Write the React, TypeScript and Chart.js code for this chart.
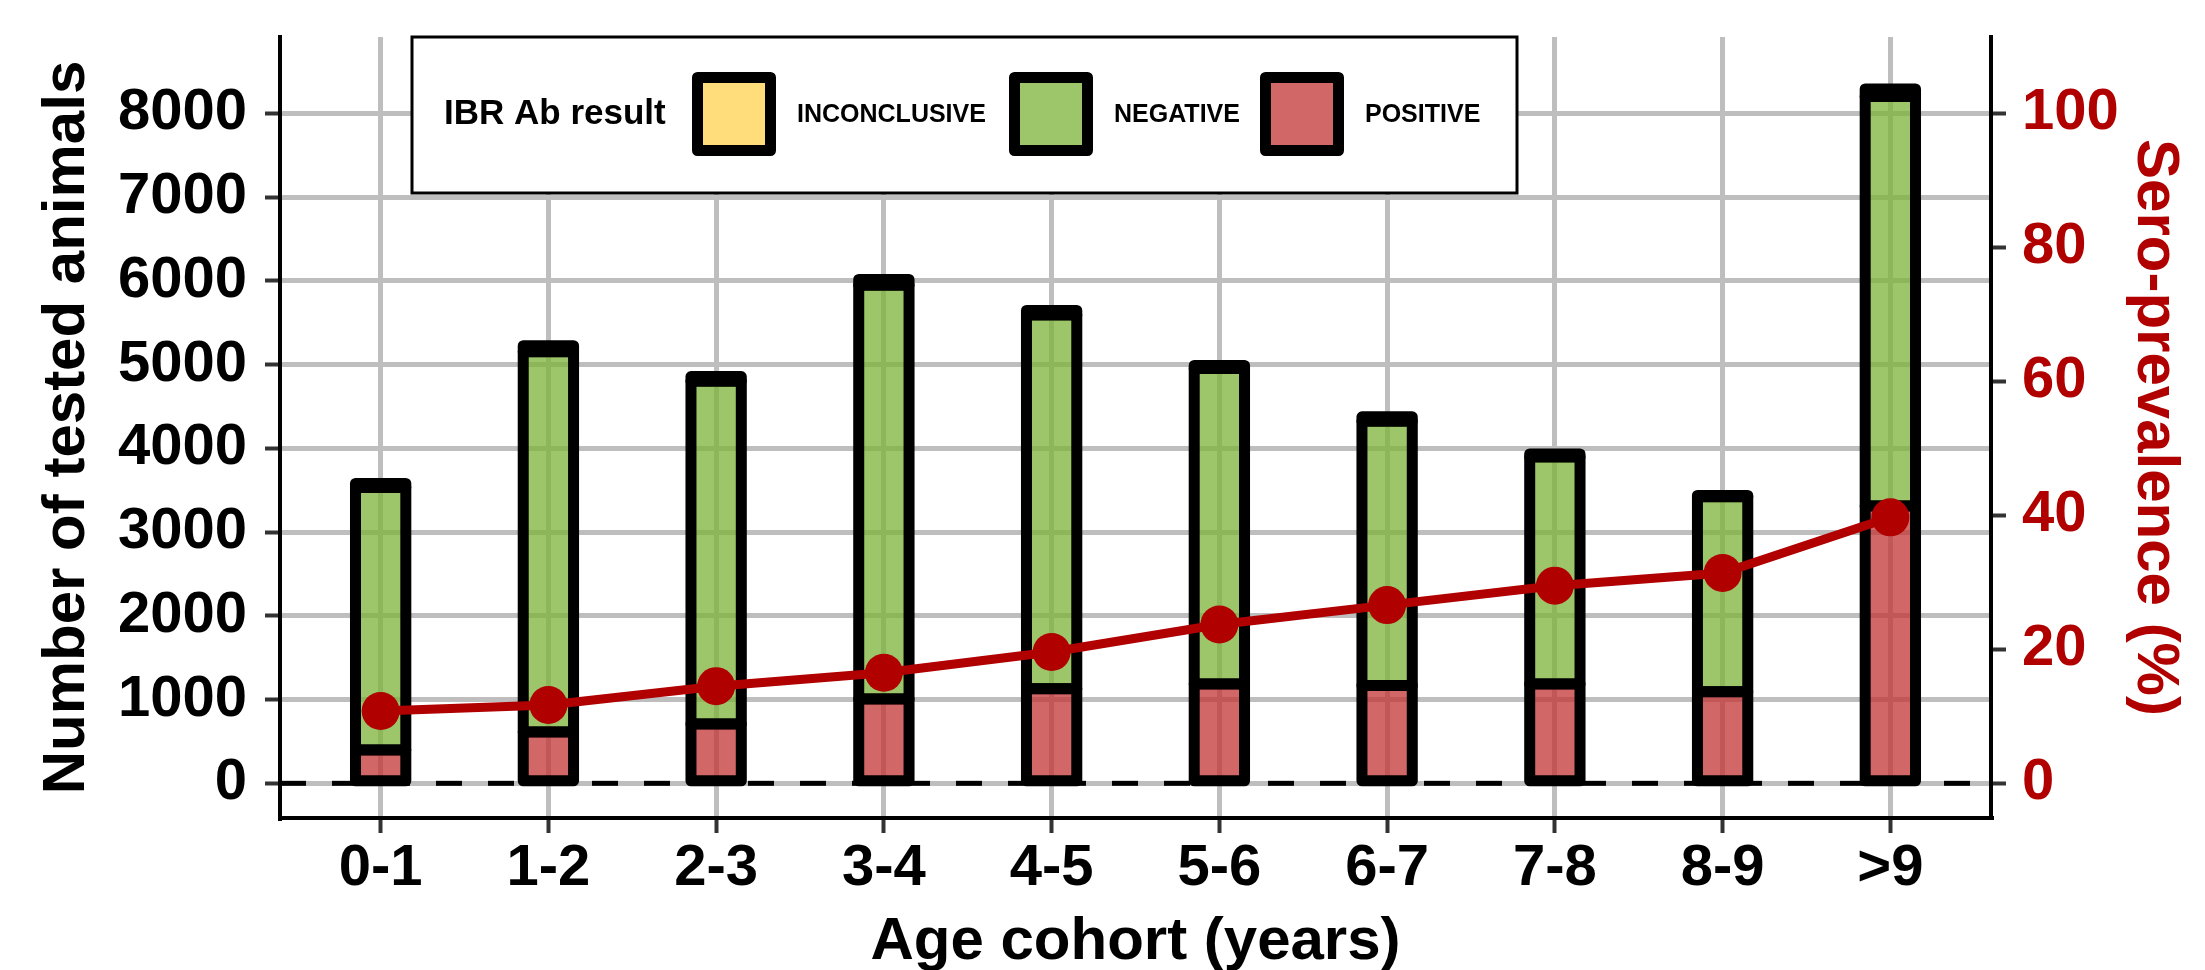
import React, { useEffect, useRef } from 'react';
import { Chart, registerables } from 'chart.js';

Chart.register(...registerables);

// ---------------- data ----------------
const categories = ['0-1', '1-2', '2-3', '3-4', '4-5', '5-6', '6-7', '7-8', '8-9', '>9'];
const positive = [398, 613, 708, 1007, 1130, 1186, 1168, 1186, 1094, 3311];
const negative = [3134, 4541, 4094, 4941, 4462, 3766, 3154, 2709, 2328, 4889];
const inconclusive = [48, 72, 54, 68, 54, 38, 54, 38, 15, 90];
const seroPrevalence = [10.8, 11.7, 14.5, 16.5, 19.6, 23.7, 26.6, 29.5, 31.4, 39.7];
const countTicks = [0, 1000, 2000, 3000, 4000, 5000, 6000, 7000, 8000];
const prevalenceTicks = [0, 20, 40, 60, 80, 100];
const legendTitle = 'IBR Ab result';
const resultNames = ['INCONCLUSIVE', 'NEGATIVE', 'POSITIVE'];
const xTitle = 'Age cohort (years)';
const yTitle = 'Number of tested animals';
const y2Title = 'Sero-prevalence (%)';

// ---------------- styles ----------------
const FONT = "'Liberation Sans', Arial, Helvetica, sans-serif";
const DARK_RED = '#B00000';
const GRID = '#BEBEBE';
const TICK = '#333333';
const fillColors: Record<string, string> = {
  INCONCLUSIVE: 'rgba(254,210,78,0.75)',
  NEGATIVE: 'rgba(124,178,56,0.75)',
  POSITIVE: 'rgba(195,52,52,0.75)',
};
const COUNT_MIN = -414;
const COUNT_MAX = 8911;
const RATIO = 80; // count units per percentage point

const barOutline = {
  id: 'barOutline',
  afterDatasetDraw(chart: any, args: any) {
    const meta = args.meta;
    if (meta.type !== 'bar') return;
    const ctx = chart.ctx;
    ctx.save();
    ctx.strokeStyle = '#000';
    ctx.lineWidth = 11;
    ctx.lineJoin = 'round';
    for (const el of meta.data) {
      const p = el.getProps(['x', 'y', 'base', 'width'], true);
      const top = Math.min(p.y, p.base);
      const h = Math.abs(p.base - p.y);
      ctx.strokeRect(p.x - p.width / 2, top, p.width, h);
    }
    ctx.restore();
  },
};

const zeroLine = {
  id: 'zeroLine',
  beforeDatasetsDraw(chart: any) {
    const { ctx, chartArea, scales } = chart;
    const y = scales.y.getPixelForValue(0);
    ctx.save();
    ctx.strokeStyle = '#000';
    ctx.lineWidth = 5;
    ctx.setLineDash([26, 26]);
    ctx.beginPath();
    ctx.moveTo(chartArea.left, y);
    ctx.lineTo(chartArea.right, y);
    ctx.stroke();
    ctx.restore();
  },
};

const legendBox = {
  id: 'legendBox',
  afterDraw(chart: any) {
    const ctx = chart.ctx;
    const bx = 412, by = 37, bw = 1105, bh = 156;
    const cy = by + bh / 2 - 1;
    ctx.save();
    ctx.fillStyle = '#fff';
    ctx.fillRect(bx, by, bw, bh);
    ctx.strokeStyle = '#000';
    ctx.lineWidth = 3;
    ctx.strokeRect(bx, by, bw, bh);
    ctx.fillStyle = '#000';
    ctx.textBaseline = 'middle';
    ctx.textAlign = 'left';
    ctx.font = `bold 35px ${FONT}`;
    ctx.fillText(legendTitle, 444, cy);
    const keyCenters = [734, 1051, 1302];
    const labelX = [797, 1114, 1365];
    resultNames.forEach((name, i) => {
      const s = 73;
      ctx.fillStyle = '#fff';
      ctx.fillRect(keyCenters[i] - s / 2, cy - s / 2, s, s);
      ctx.fillStyle = fillColors[name];
      ctx.fillRect(keyCenters[i] - s / 2, cy - s / 2, s, s);
      ctx.strokeStyle = '#000';
      ctx.lineWidth = 11;
      ctx.lineJoin = 'round';
      ctx.strokeRect(keyCenters[i] - s / 2, cy - s / 2, s, s);
      ctx.fillStyle = '#000';
      ctx.font = `bold 25px ${FONT}`;
      ctx.fillText(name, labelX[i], cy + 1);
    });
    ctx.restore();
  },
};

export default function App() {
  const canvasRef = useRef<HTMLCanvasElement | null>(null);

  useEffect(() => {
    if (!canvasRef.current) return;
    const toPts = (arr: number[]) => arr.map((v, i) => ({ x: i, y: v }));
    const barCommon = {
      type: 'bar' as const,
      borderWidth: 0,
      barPercentage: 0.3,
      categoryPercentage: 1,
      yAxisID: 'y',
      stack: 'counts',
    };
    const chart = new Chart(canvasRef.current, {
      type: 'bar',
      data: {
        datasets: [
          { ...barCommon, label: 'POSITIVE', data: toPts(positive), backgroundColor: fillColors.POSITIVE, order: 1 },
          { ...barCommon, label: 'NEGATIVE', data: toPts(negative), backgroundColor: fillColors.NEGATIVE, order: 2 },
          { ...barCommon, label: 'INCONCLUSIVE', data: toPts(inconclusive), backgroundColor: fillColors.INCONCLUSIVE, order: 3 },
          {
            type: 'line',
            label: 'Sero-prevalence',
            data: toPts(seroPrevalence),
            yAxisID: 'y2',
            borderColor: DARK_RED,
            backgroundColor: DARK_RED,
            borderWidth: 9,
            pointRadius: 19,
            pointBackgroundColor: DARK_RED,
            pointBorderColor: DARK_RED,
            pointBorderWidth: 0,
            tension: 0,
            order: 0,
          } as any,
        ],
      },
      options: {
        animation: false,
        responsive: true,
        maintainAspectRatio: false,
        devicePixelRatio: 1,
        layout: { padding: { top: 37, left: 0, right: 0, bottom: 0 } },
        plugins: { legend: { display: false }, tooltip: { enabled: false } },
        scales: {
          x: {
            type: 'linear',
            min: -0.6,
            max: 9.6,
            stacked: true,
            offset: false,
            afterBuildTicks: (axis: any) => {
              axis.ticks = categories.map((_, i) => ({ value: i }));
            },
            afterFit: (axis: any) => {
              axis.height = 152;
              axis.paddingLeft = 0;
              axis.paddingRight = 0;
            },
            ticks: {
              autoSkip: false,
              maxRotation: 0,
              padding: 1,
              color: '#000',
              font: { family: FONT, size: 58, weight: 'bold' },
              callback: (v: any) => categories[Math.round(Number(v))] ?? '',
            },
            grid: { offset: false, color: GRID, lineWidth: 5, tickLength: 15, tickWidth: 4, tickColor: TICK },
            border: { display: true, color: '#000', width: 4 },
            title: {
              display: true,
              text: xTitle,
              color: '#000',
              font: { family: FONT, size: 60, weight: 'bold' },
              padding: { top: 0, bottom: -8 },
            },
          },
          y: {
            type: 'linear',
            position: 'left',
            stacked: true,
            min: COUNT_MIN,
            max: COUNT_MAX,
            afterBuildTicks: (axis: any) => {
              axis.ticks = countTicks.map((v) => ({ value: v }));
            },
            afterFit: (axis: any) => {
              axis.width = 280;
              axis.paddingTop = 0;
              axis.paddingBottom = 0;
            },
            ticks: {
              padding: 18,
              color: '#000',
              font: { family: FONT, size: 58, weight: 'bold' },
              callback: (v: any) => String(v),
            },
            grid: { color: GRID, lineWidth: 5, tickLength: 15, tickWidth: 4, tickColor: TICK },
            border: { display: true, color: '#000', width: 4 },
            title: {
              display: true,
              text: yTitle,
              color: '#000',
              font: { family: FONT, size: 60, weight: 'bold' },
              padding: { top: 31, bottom: 0 },
            },
          },
          y2: {
            type: 'linear',
            position: 'right',
            min: COUNT_MIN / RATIO,
            max: COUNT_MAX / RATIO,
            afterBuildTicks: (axis: any) => {
              axis.ticks = prevalenceTicks.map((v) => ({ value: v }));
            },
            afterFit: (axis: any) => {
              axis.width = 214;
              axis.paddingTop = 0;
              axis.paddingBottom = 0;
            },
            ticks: {
              padding: 16,
              color: DARK_RED,
              font: { family: FONT, size: 58, weight: 'bold' },
              callback: (v: any) => String(v),
            },
            grid: { drawOnChartArea: false, tickLength: 15, tickWidth: 4, tickColor: TICK },
            border: { display: true, color: '#000', width: 4 },
            title: {
              display: true,
              text: y2Title,
              color: DARK_RED,
              font: { family: FONT, size: 60, weight: 'bold' },
              padding: { top: 14, bottom: 0 },
            },
          },
        },
      } as any,
      plugins: [zeroLine, barOutline, legendBox],
    });
    return () => chart.destroy();
  }, []);

  return (
    <div style={{ position: 'fixed', left: 0, top: 0, width: '2205px', height: '970px', background: '#fff' }}>
      <canvas ref={canvasRef} />
    </div>
  );
}
